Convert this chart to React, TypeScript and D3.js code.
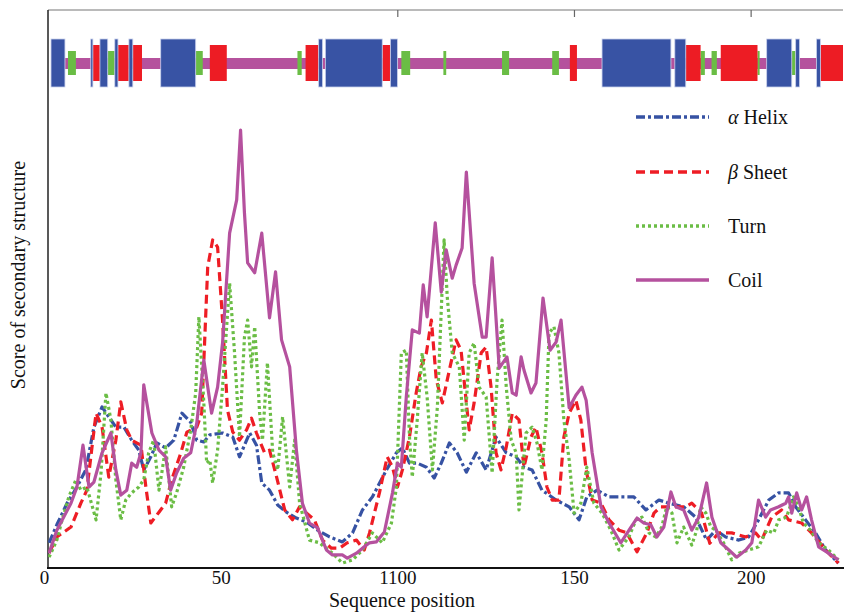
import React from "react";
import * as d3 from "d3";

// ---- data ----
const xTickValues = [0, 50, 100, 150, 200];
const xTickLabels = ["0", "50", "1100", "150", "200"];
const topTickValues = [100, 150, 200];

const seriesNames = ["Helix", "Sheet", "Turn", "Coil"];

const helixData: [number, number][] = [
  [1.3, 5.6], [3.5, 9.6], [6.4, 14.4], [9.2, 18], [11.7, 21.8], [14, 31.3], [16.3, 35.8], [18.2, 33.6],
  [20.2, 31.3], [22.5, 31.3], [24.7, 28.4], [26.7, 26.2], [28.1, 21.8], [30.1, 24.7], [31.8, 27.8],
  [34.3, 26.7], [36.6, 28.4], [38.9, 34.4], [41.4, 32.4], [43.1, 28.4], [45.1, 28], [46.8, 29.6],
  [50.4, 30], [53.3, 29.1], [55.2, 24.7], [58.1, 30], [60, 27.3], [61.5, 18.9], [63.7, 17.3], [66, 14],
  [68.5, 12.4], [71.3, 11.1], [74.2, 10.2], [77.3, 8.4], [80.7, 6.9], [84.3, 5.8], [87.2, 7.8], [90, 12.9],
  [92.8, 15.8], [96.8, 21.8], [99.6, 25.6], [101.3, 26.7], [103.3, 23.3], [105.5, 23.3], [108.1, 22.4],
  [110.3, 20], [112.3, 23.3], [114.6, 27.8], [116.8, 25.6], [119.4, 21.3], [122.2, 25.6], [125, 21.8],
  [127.8, 29.1], [130.7, 25.6], [133.5, 24.7], [135.7, 22.4], [138, 21.8], [140.8, 17.3], [144.8, 15.1],
  [148.5, 13.6], [151.3, 10.7], [153.5, 15.8], [156.4, 17.3], [159.8, 15.8], [163.4, 15.8], [166.8, 15.8],
  [170.2, 12.9], [173.9, 15.1], [176.7, 14.4], [180.9, 13.6], [184.3, 11.3], [187.4, 6.2], [190, 8.4],
  [192.8, 6.9], [196.5, 6.2], [199.3, 6.9], [202.1, 10.7], [205, 15.1], [207.8, 16.7], [210.6, 16.7],
  [212.6, 13.6], [215.4, 10.7], [218.2, 7.8], [221.1, 4], [224.7, 1.1],
];

const sheetData: [number, number][] = [
  [1.3, 3.3], [3.5, 6.9], [7.5, 9.1], [10.3, 14.4], [12, 17.3], [14.6, 34.4], [16.3, 31.3], [18.2, 20.2],
  [20.2, 28.4], [21.6, 36.9], [23.3, 30.7], [24.7, 28.4], [27.3, 27.3], [28.7, 18], [30.1, 10], [32.4, 12.4],
  [34.3, 14.4], [36, 19.6], [38.6, 25.6], [40.3, 30.2], [43.1, 31.3], [44.5, 34.4], [46.2, 66.9],
  [47.6, 72.9], [49, 71.3], [50.4, 55.1], [51.8, 35.1], [53.3, 30.2], [55.2, 28.4], [57.2, 30.7],
  [58.6, 33.3], [60, 30], [62.3, 25.6], [63.7, 26.2], [65.7, 20.2], [68, 12.9], [70.2, 10.7], [72.2, 13.6],
  [74.2, 12.2], [76.4, 10.7], [78.7, 6.2], [81.2, 4.4], [83.5, 4.4], [85.7, 5.6], [88.3, 6.2], [90.5, 4],
  [92, 7.8], [94.8, 16.7], [97, 24.7], [98.5, 22.4], [99.9, 18], [101.3, 21.8], [103.3, 29.1],
  [105.2, 38.9], [106.6, 44.7], [108.1, 47.8], [109.5, 55.1], [110.9, 41.8], [112.6, 36.7], [114.6, 44],
  [116.5, 50.7], [117.9, 48.4], [119.4, 36.7], [120.2, 30.7], [121.6, 36.7], [123.6, 47.8], [125, 49.1],
  [126.4, 40.2], [127.8, 25.6], [129.2, 21.8], [130.7, 26.9], [132.4, 34.4], [134.3, 32.9], [135.7, 22.4],
  [137.7, 29.1], [139.1, 31.3], [140.8, 25.6], [142.2, 18], [143.7, 15.1], [145.6, 15.1], [147, 29.1],
  [148.5, 34.4], [150.4, 37.3], [151.8, 32.9], [153.3, 21.8], [155, 15.1], [157.5, 14.4], [159.8, 10.7],
  [162.6, 8.4], [164.8, 7.8], [167.7, 3.6], [170.5, 7.8], [172.5, 12.2], [174.4, 13.6], [177.6, 13.6],
  [181.5, 13.6], [183.2, 14.4], [186, 12.2], [188.3, 5.5], [190.8, 7.8], [194.5, 7.8], [198.5, 6.9],
  [201.3, 7.8], [203, 6.2], [205.8, 11.3], [208.6, 12.9], [210.6, 10.7], [214.3, 10], [217.1, 7.8],
  [221.1, 4], [224.7, 1.1],
];

const turnData: [number, number][] = [
  [1.3, 2.4], [3.5, 6.2], [5, 10.7], [6.9, 15.8], [8.9, 19.6], [10.3, 17.3], [12, 18], [14.6, 10.7],
  [16, 21.1], [17.4, 38.9], [18.8, 32.9], [20.2, 19.6], [21.6, 10.7], [23, 15.1], [24.7, 16.7], [26.7, 18],
  [28.1, 19.6], [29.5, 25.6], [30.9, 28.4], [32.4, 17.3], [33.2, 21.1], [34.3, 26.9], [36, 13.6],
  [37.4, 16.7], [39.4, 22.4], [41.4, 30.7], [42.8, 38.9], [43.7, 55.8], [45.1, 36.7], [45.9, 23.3],
  [46.8, 24], [47.6, 18.9], [49, 26.2], [50.4, 40.2], [52.4, 63.3], [53.8, 47.8], [55.2, 29.1],
  [56.6, 51.3], [57.5, 55.1], [58.6, 44.7], [59.5, 53.6], [60.9, 34.4], [61.7, 28.4], [63.1, 45.6],
  [64.6, 25.6], [66, 21.8], [67.4, 33.6], [69.4, 18], [70.8, 28.4], [72.2, 14.4], [75, 6.2], [77.8, 5.6],
  [81.5, 3.3], [84.3, 1.1], [87.2, 1.8], [90, 4], [92.8, 7.8], [95.6, 5.6], [98.2, 10], [99.6, 18],
  [101, 47.8], [102.4, 48.4], [103.3, 29.1], [104.1, 20.2], [105.5, 32.9], [106.9, 47.8], [108.3, 38],
  [109.8, 21.8], [111.2, 35.8], [112.3, 57.3], [113.1, 72.9], [114, 60.2], [115.4, 47.8], [117.4, 44.7],
  [118.8, 28.4], [120.2, 47.8], [121.6, 50], [123, 40.2], [125, 38], [126.7, 21.1], [128.1, 41.8],
  [129.5, 55.1], [130.7, 40.2], [132.1, 28.4], [133.5, 25.6], [134.3, 12.9], [136.3, 30], [138, 31.3],
  [139.4, 27.8], [140.8, 21.8], [142, 32.9], [142.8, 52.2], [144.2, 53.6], [145.6, 47.8], [147, 32.9],
  [148.5, 24], [149.9, 12.2], [151.8, 14.4], [153.5, 22.4], [155.5, 14.4], [157.8, 12.2], [160.3, 8.4],
  [162.6, 4], [165.4, 6.9], [167.4, 10.7], [169.1, 11.3], [171.1, 7.8], [173, 6.9], [174.7, 9.1],
  [176.1, 13.6], [177.6, 12.2], [179, 5.6], [180.9, 9.1], [183.2, 5.1], [184.6, 8.4], [185.7, 13.6],
  [187.2, 12.2], [188.6, 9.1], [190, 8.4], [192.2, 5.6], [194.5, 1.8], [196.5, 3.3], [199.3, 4],
  [202.1, 4.7], [204.4, 8.4], [206.4, 7.8], [207.8, 10.7], [210, 11.3], [212, 15.8], [213.4, 13.6],
  [214.8, 10], [216.8, 8.4], [219.1, 5.6], [221.9, 4], [224.7, 1.8],
];

const coilData: [number, number][] = [
  [1.3, 3.3], [3.5, 8.4], [7.5, 14.4], [9.2, 18], [10.9, 27.3], [12.6, 18], [14, 19.1], [16.3, 25.6],
  [18.8, 30], [20.2, 21.8], [21.6, 16.2], [23.3, 17.3], [24.7, 23.3], [26.1, 22.4], [27.3, 25.6],
  [28.1, 40.7], [30.4, 30], [32.4, 26.2], [34.3, 24.7], [35.7, 17.3], [37.4, 21.1], [39.4, 24.4],
  [41.4, 25.6], [43.1, 32.2], [45.1, 46.2], [47.3, 34.4], [49, 40.2], [50.4, 50], [52.4, 74.4],
  [54.4, 81.8], [55.5, 97.3], [56.6, 78.9], [57.5, 67.8], [59.5, 65.6], [61.5, 74.4], [63.7, 55.6],
  [65.4, 65.8], [67.1, 50.7], [69.4, 44.7], [71.3, 26.2], [73, 14.4], [75, 10], [77.3, 8.9], [79.8, 4],
  [81.5, 2.9], [84.3, 2.9], [85.7, 2.2], [88.3, 3.3], [90.5, 4.7], [92, 5.6], [93.9, 5.8], [96.2, 8],
  [98.5, 16.7], [99.9, 23.3], [101, 22.4], [102.4, 38], [104.1, 52.9], [106.1, 52.2], [107.2, 62.9],
  [108.3, 55.8], [110.6, 76.7], [112.3, 61.3], [113.7, 70.7], [115.4, 64.4], [116.5, 67.3], [118.2, 71.1],
  [119.4, 88], [121.6, 63.3], [123.9, 51.3], [125, 51.3], [126.7, 68.9], [128.7, 44.4], [130.9, 46.9],
  [132.4, 38.9], [133.5, 38.4], [134.9, 46.9], [135.7, 44], [137.7, 38.9], [139.1, 41.1], [141.1, 60],
  [143.1, 48.4], [144.8, 50.2], [146.2, 55.1], [148.5, 35.6], [150.4, 38.4], [152.1, 40.2], [153.3, 37.3],
  [155, 25.6], [157.5, 13.6], [159.8, 10], [163.1, 5.6], [166, 9.1], [167.7, 11.1], [169.6, 10],
  [171.6, 9.6], [173.3, 6.9], [175.3, 9.1], [177.3, 16.9], [178.7, 13.6], [180.9, 12.9], [183.2, 8.4],
  [185.2, 11.3], [187.4, 18.9], [188.9, 11.3], [191.4, 5.6], [193.7, 4], [195.9, 2.4], [198.5, 4],
  [200.2, 5.6], [202.1, 15.1], [204.1, 11.3], [205.5, 12.9], [207.8, 13.6], [209.8, 14.4], [210.6, 15.8],
  [211.5, 12.2], [212.9, 16.7], [214.3, 12.9], [215.7, 15.8], [217.1, 10.7], [219.1, 4.7], [221.9, 3.3],
  [224.7, 1.8],
];

// secondary-structure segments (type, start, end) in sequence positions
const ssTypes = ["H", "T", "H", "E", "H", "T", "H", "E", "H", "E", "H", "T", "E", "T", "E", "H", "H", "E", "H",
  "T", "T", "T", "T", "E", "H", "H", "E", "T", "T", "E", "T", "H", "T", "H", "H", "E"];
const ssStarts = [1.85, 6.65, 13.1, 13.7, 15.7, 17.9, 19.9, 20.8, 23.9, 25.0, 32.9, 42.8, 46.8, 71.6, 73.9, 77.6,
  79.5, 95.6, 97.9, 101.0, 112.9, 129.5, 143.7, 148.7, 157.8, 178.4, 181.5, 185.7, 188.8, 191.4, 201.8,
  204.4, 211.5, 212.6, 218.5, 219.6];
const ssEnds = [5.8, 8.9, 13.7, 15.7, 17.9, 19.9, 20.8, 23.9, 25.0, 27.6, 42.8, 44.8, 51.6, 72.8, 77.6, 78.7,
  95.6, 97.9, 99.9, 103.5, 113.7, 131.5, 145.6, 150.7, 177.3, 181.5, 185.7, 186.9, 190.3, 201.8, 202.4,
  211.5, 212.6, 213.7, 219.6, 226];
const coilBarStart = 5.8;
const coilBarEnd = 226;

// ---- styles ----
const BLUE = "#3652a3";
const RED = "#ee1d25";
const GREEN = "#6bbd45";
const PURPLE = "#b5519e";
const FONT = '"Liberation Serif", "DejaVu Serif", Tinos, "Times New Roman", Times, serif';

const seriesStyle: Record<string, { color: string; dash: string }> = {
  Helix: { color: BLUE, dash: "9,3,3,3" },
  Sheet: { color: RED, dash: "9,5" },
  Turn: { color: GREEN, dash: "3,3" },
  Coil: { color: PURPLE, dash: "none" },
};

const textStyle: React.CSSProperties = { fontFamily: FONT, fontSize: 20, fill: "#111" };
const tickStyle: React.CSSProperties = { fontFamily: FONT, fontSize: 19, fill: "#111" };

export default function App() {
  const W = 844;
  const H = 612;
  const left = 48;
  const right = 843;
  const top = 10;
  const bottom = 568;

  const x = d3.scaleLinear().domain([1, 226]).range([left, right]);
  const y = d3.scaleLinear().domain([0, 100]).range([bottom, 118]);

  const line = d3
    .line<[number, number]>()
    .x((d) => x(d[0]))
    .y((d) => y(d[1]));

  const dataBySeries: Record<string, [number, number][]> = {
    Helix: helixData,
    Sheet: sheetData,
    Turn: turnData,
    Coil: coilData,
  };

  const typeStyle: Record<string, { fill: string; y0: number; y1: number; stroke: string }> = {
    H: { fill: "#3853a4", y0: 39, y1: 87, stroke: "#c9d1ec" },
    E: { fill: "#ed1c24", y0: 45, y1: 81, stroke: "none" },
    T: { fill: "#6abd45", y0: 51, y1: 75, stroke: "none" },
  };
  const drawOrder = ["T", "E", "H"];

  const legendYs = [117, 172, 226, 280];

  return (
    <svg
      width={W}
      height={H}
      style={{ position: "fixed", left: 0, top: 0, background: "#fff", fontFamily: FONT }}
    >
      <rect x={0} y={0} width={W} height={H} fill="#fff" />
      {/* frame */}
      <line x1={left} x2={right} y1={top} y2={top} stroke="#777" strokeWidth={1.2} />
      <line x1={left} x2={left} y1={top} y2={bottom} stroke="#222" strokeWidth={1.5} />
      {topTickValues.map((v) => (
        <line key={v} x1={x(v)} x2={x(v)} y1={top} y2={top + 7} stroke="#666" strokeWidth={1.2} />
      ))}

      {/* secondary structure bar */}
      <rect
        x={x(coilBarStart)}
        y={58}
        width={Math.min(x(coilBarEnd), right) - x(coilBarStart)}
        height={11}
        fill="#b5529d"
      />
      {drawOrder.map((t) =>
        ssTypes.map((tp, i) =>
          tp === t ? (
            <rect
              key={t + i}
              x={x(ssStarts[i])}
              y={typeStyle[t].y0}
              width={Math.max(1, Math.min(x(ssEnds[i]), right) - x(ssStarts[i]))}
              height={typeStyle[t].y1 - typeStyle[t].y0}
              fill={typeStyle[t].fill}
              stroke={typeStyle[t].stroke}
              strokeWidth={0.8}
            />
          ) : null
        )
      )}

      {/* series lines */}
      <defs>
        <clipPath id="plotclip">
          <rect x={left} y={top} width={right - left + 1} height={bottom - top + 2} />
        </clipPath>
      </defs>
      <g clipPath="url(#plotclip)">
        {seriesNames.map((s) => (
          <path
            key={s}
            d={line(dataBySeries[s]) || ""}
            fill="none"
            stroke={seriesStyle[s].color}
            strokeWidth={3.2}
            strokeDasharray={seriesStyle[s].dash}
            strokeLinejoin="round"
          />
        ))}
      </g>

      {/* bottom axis */}
      <line x1={left - 1} x2={right + 1} y1={bottom} y2={bottom} stroke="#111" strokeWidth={2} />
      {xTickValues.map((v, i) => (
        <text key={v} x={x(v)} y={584} textAnchor="middle" style={tickStyle}>
          {xTickLabels[i]}
        </text>
      ))}
      <text x={402} y={607} textAnchor="middle" style={textStyle}>
        Sequence position
      </text>
      <text transform="translate(25,275) rotate(-90)" textAnchor="middle" style={textStyle}>
        Score of secondary structure
      </text>

      {/* legend */}
      {seriesNames.map((s, i) => (
        <g key={s}>
          <line
            x1={636}
            x2={709}
            y1={legendYs[i]}
            y2={legendYs[i]}
            stroke={seriesStyle[s].color}
            strokeWidth={3.5}
            strokeDasharray={seriesStyle[s].dash}
          />
          <text x={728} y={legendYs[i] + 7} style={textStyle}>
            {s === "Helix" ? (
              <>
                <tspan fontStyle="italic">α</tspan> Helix
              </>
            ) : s === "Sheet" ? (
              <>
                <tspan fontStyle="italic">β</tspan> Sheet
              </>
            ) : (
              s
            )}
          </text>
        </g>
      ))}
    </svg>
  );
}
